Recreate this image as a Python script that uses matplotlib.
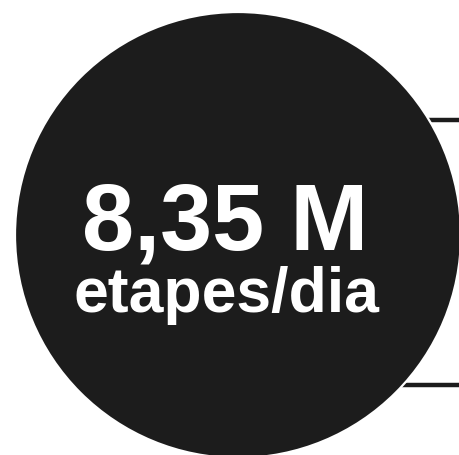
import matplotlib.pyplot as plt
from matplotlib.patches import Circle

# values shown in the chart
value_label = "8,35 M"
unit_label = "etapes/dia"

# bracket lines on the right (y in pixels)
line_rows = [119.5, 385]

DARK = "#1c1c1c"


def main():
    fig = plt.figure(figsize=(4.6, 4.55), dpi=100)
    ax = fig.add_axes([0, 0, 1, 1])
    ax.set_xlim(0, 460)
    ax.set_ylim(455, 0)
    ax.set_aspect("equal")
    ax.axis("off")

    for y in line_rows:
        ax.plot([360, 462], [y, y], color=DARK, lw=3.2, solid_capstyle="butt", zorder=1)

    circ = Circle((238, 235), 223, facecolor=DARK, edgecolor="white", lw=1.6, zorder=2)
    ax.add_patch(circ)

    ax.text(225, 250, value_label, color="white", fontsize=67.5, fontweight="bold",
            family="Liberation Sans", ha="center", va="baseline", zorder=3)
    ax.text(226.5, 312, unit_label, color="white", fontsize=45, fontweight="bold",
            family="Liberation Sans", ha="center", va="baseline", zorder=3)

    fig.savefig("out.png", dpi=100, facecolor="white")


if __name__ == "__main__":
    main()
